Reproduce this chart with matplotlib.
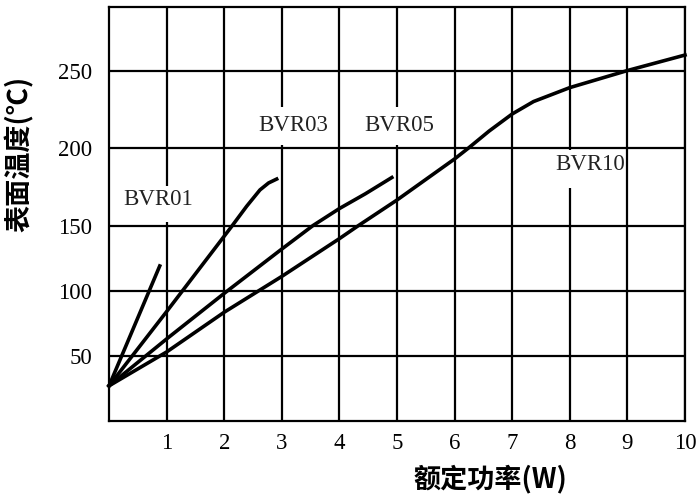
import numpy as np
import matplotlib
matplotlib.use("Agg")
import matplotlib.pyplot as plt
from matplotlib.patches import Rectangle

# rated power (W) vs surface temperature (C) for each resistor type
power_01 = [0, 0.88]
temp_01 = [27, 119]

power_03 = [0, 1, 2.14, 2.39, 2.62, 2.77, 2.91]
temp_03 = [27, 84, 150, 162.5, 173, 177.5, 180]

power_05 = [0, 1, 2, 2.97, 3.54, 4, 4.45, 4.91]
temp_05 = [27, 63, 98, 131, 150, 161, 170.5, 181]

power_10 = [0, 1, 2, 3, 4, 4.33, 5, 6, 6.24, 6.6, 7, 7.37, 8, 9, 10]
temp_10 = [27, 53, 83.5, 111, 140, 150, 166.5, 193, 200, 211, 222, 230, 239, 250, 260]

series_names = ["BVR01", "BVR03", "BVR05", "BVR10"]
x_ticks = [1, 2, 3, 4, 5, 6, 7, 8, 9, 10]
y_ticks = [50, 100, 150, 200, 250]

# label anchor points and the white boxes behind them (data units)
label_pos = [(0.85, 167), (3.19, 214.5), (5.03, 214.5), (8.35, 189.5)]
label_box = [(0.1, 152, 1.8, 23.5), (2.05, 201.8, 1.9, 24.7),
             (4.05, 201.8, 1.9, 24.7), (7.05, 174.5, 1.9, 24)]

# the printed temperature axis is stretched above 150
stretch = 1.19
def fwd(y):
    return np.interp(y, [-100, 0, 150, 1000], [-100, 0, 150, 150 + 850 * stretch])
def inv(v):
    return np.interp(v, [-100, 0, 150, 150 + 850 * stretch], [-100, 0, 150, 1000])

serif = "Liberation Serif"
cjk = ["Noto Sans CJK SC", "DejaVu Sans"]

fig = plt.figure(figsize=(6.99, 4.95), dpi=100)
ax = fig.add_axes([0.156, 0.1495, 0.824, 0.8364])
ax.set_yscale("function", functions=(fwd, inv))
ax.set_xlim(0, 10)
ax.set_ylim(0, 291)

ax.set_axisbelow(True)
ax.grid(True, color="black", linewidth=1.6)
ax.set_xticks(x_ticks)
ax.set_yticks(y_ticks)
ax.tick_params(length=0, labelsize=16.5)
ax.tick_params(axis="x", pad=9)
ax.tick_params(axis="y", pad=12)
for lab in ax.get_xticklabels() + ax.get_yticklabels():
    lab.set_fontfamily(serif)
for sp in ax.spines.values():
    sp.set_linewidth(1.6)

for (bx, by, bw, bh) in label_box:
    ax.add_patch(Rectangle((bx, by), bw, bh, facecolor="white",
                           edgecolor="none", zorder=1))

for px, ty in [(power_01, temp_01), (power_03, temp_03),
               (power_05, temp_05), (power_10, temp_10)]:
    ax.plot(px, ty, color="black", linewidth=2.6, clip_on=False,
            solid_joinstyle="round", zorder=3)

for name, (lx, ly) in zip(series_names, label_pos):
    ax.text(lx, ly, name, ha="center", va="center", fontsize=16.5,
            family=serif, color="#222222", zorder=4)

ax.set_ylabel("表面温度(℃)", family=cjk, fontsize=19.5, fontweight="bold")
ax.yaxis.set_label_coords(-0.13, 0.645)
ax.set_xlabel("额定功率(W)", family=cjk, fontsize=19.5, fontweight="bold")
ax.xaxis.set_label_coords(0.663, -0.105)

fig.savefig("out.png", dpi=100)
